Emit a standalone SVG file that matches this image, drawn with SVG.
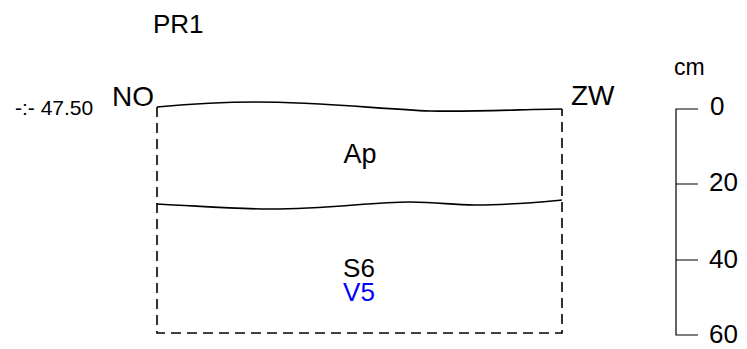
<svg xmlns="http://www.w3.org/2000/svg" width="747" height="349" viewBox="0 0 747 349">
<style>
text{font-family:"Liberation Sans",Arial,sans-serif;fill:#000}
.ln{fill:none;stroke:#000;stroke-width:1.6}
.ds{fill:none;stroke:#000;stroke-width:1.6;stroke-dasharray:10 6}
.sc{fill:none;stroke:#000;stroke-width:1.2}
</style>
<rect width="747" height="349" fill="#fff"/>
<g id="title"><text x="153" y="33" font-size="26">PR1</text></g>
<g id="labels">
<text x="15" y="115" font-size="21">-:- 47.50</text>
<text x="112" y="106" font-size="28">NO</text>
<text x="571" y="105" font-size="28">ZW</text>
</g>
<g id="profile">
<path class="ln" d="M157,107 C190,104 220,102 255,102 C320,102 380,109 430,111 C480,112 530,109 562,109"/>
<path class="ds" d="M157,107 V333 H562 V109"/>
<path class="ln" d="M157,204 C200,206 230,209 270,209 C330,209 370,202 410,202 C440,202 450,205 475,205 C510,205 540,202 562,200"/>
</g>
<g id="horizons">
<text x="360" y="163" font-size="27" text-anchor="middle">Ap</text>
<text x="359" y="277" font-size="26" text-anchor="middle">S6</text>
<text x="359" y="301" font-size="26" text-anchor="middle" style="fill:#0000ff">V5</text>
</g>
<g id="scale">
<text x="674" y="75" font-size="23">cm</text>
<path class="sc" d="M698,109 H676 V335 H698 M676,184 H698 M676,260 H698"/>
<text x="710" y="115" font-size="26">0</text>
<text x="709" y="191" font-size="26">20</text>
<text x="709" y="268" font-size="26">40</text>
<text x="709" y="343" font-size="26">60</text>
</g>
</svg>
